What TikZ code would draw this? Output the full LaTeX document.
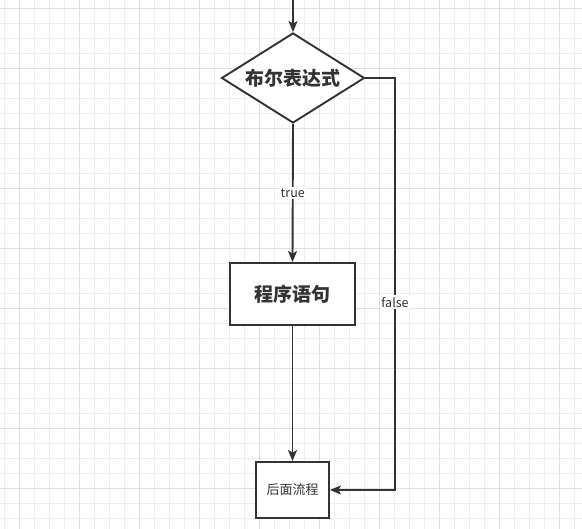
\documentclass[tikz,border=0pt]{standalone}
\usepackage{fontspec}
\usepackage{tikz}
\usetikzlibrary{shapes.geometric,arrows.meta}
\newfontfamily\cjk{Noto Sans CJK SC}
\definecolor{ink}{HTML}{333333}
\definecolor{gridminor}{HTML}{EEEEEE}
\definecolor{gridmajor}{HTML}{E0E0E0}
\tikzstyle{cond} = [draw=ink, line width=1.9pt, diamond, aspect=1.59, inner sep=0pt, minimum width=143pt, minimum height=90pt, fill=white, text=ink, font={\cjk\bfseries\fontsize{19}{22}\selectfont}]
\tikzstyle{stmt} = [draw=ink, line width=1.9pt, rectangle, fill=white, text=ink, minimum width=125pt, minimum height=62pt, font={\cjk\bfseries\fontsize{19}{22}\selectfont}]
\tikzstyle{after} = [stmt, minimum width=73pt, minimum height=56pt, font={\cjk\fontsize{13}{15}\selectfont}]
\tikzstyle{flow} = [draw=ink, line width=1.9pt, -{Stealth[length=11pt,width=9pt,inset=2.5pt]}]
\tikzstyle{lbl} = [fill=white, text=ink, inner sep=1.5pt, font={\cjk\fontsize{12.5}{14}\selectfont}]

\begin{document}
\begin{tikzpicture}[x=1pt,y=1pt]
    \useasboundingbox (0,0) rectangle (582,529);
    \fill[white] (0,0) rectangle (582,529);
    % grid
    \foreach \gx in {4,19,...,574} \draw[gridminor, line width=0.9pt] (\gx,0) -- (\gx,529);
    \foreach \gy in {11,26,...,521} \draw[gridminor, line width=0.9pt] (0,\gy) -- (582,\gy);
    \foreach \gx in {19,79,...,559} \draw[gridmajor, line width=0.9pt] (\gx,0) -- (\gx,529);
    \foreach \gy in {41,101,...,521} \draw[gridmajor, line width=0.9pt] (0,\gy) -- (582,\gy);
    % flow chart
    \coordinate (start) at (293,529);
    \node[cond](test) at (293,451){布尔表达式};
    \node[stmt](body) at (292.5,235){程序语句};
    \node[after](next) at (292.5,39){后面流程};
    \coordinate (elbow) at (395,451);
    \draw[flow](start)--(test.north);
    \draw[flow](test.south)--node[lbl]{true}(body.north);
    \draw[flow](body.south)--(next.north);
    \draw[flow](test.east)--(elbow)|-node[lbl,pos=0.272]{false}(next.east);
\end{tikzpicture}
\end{document}
